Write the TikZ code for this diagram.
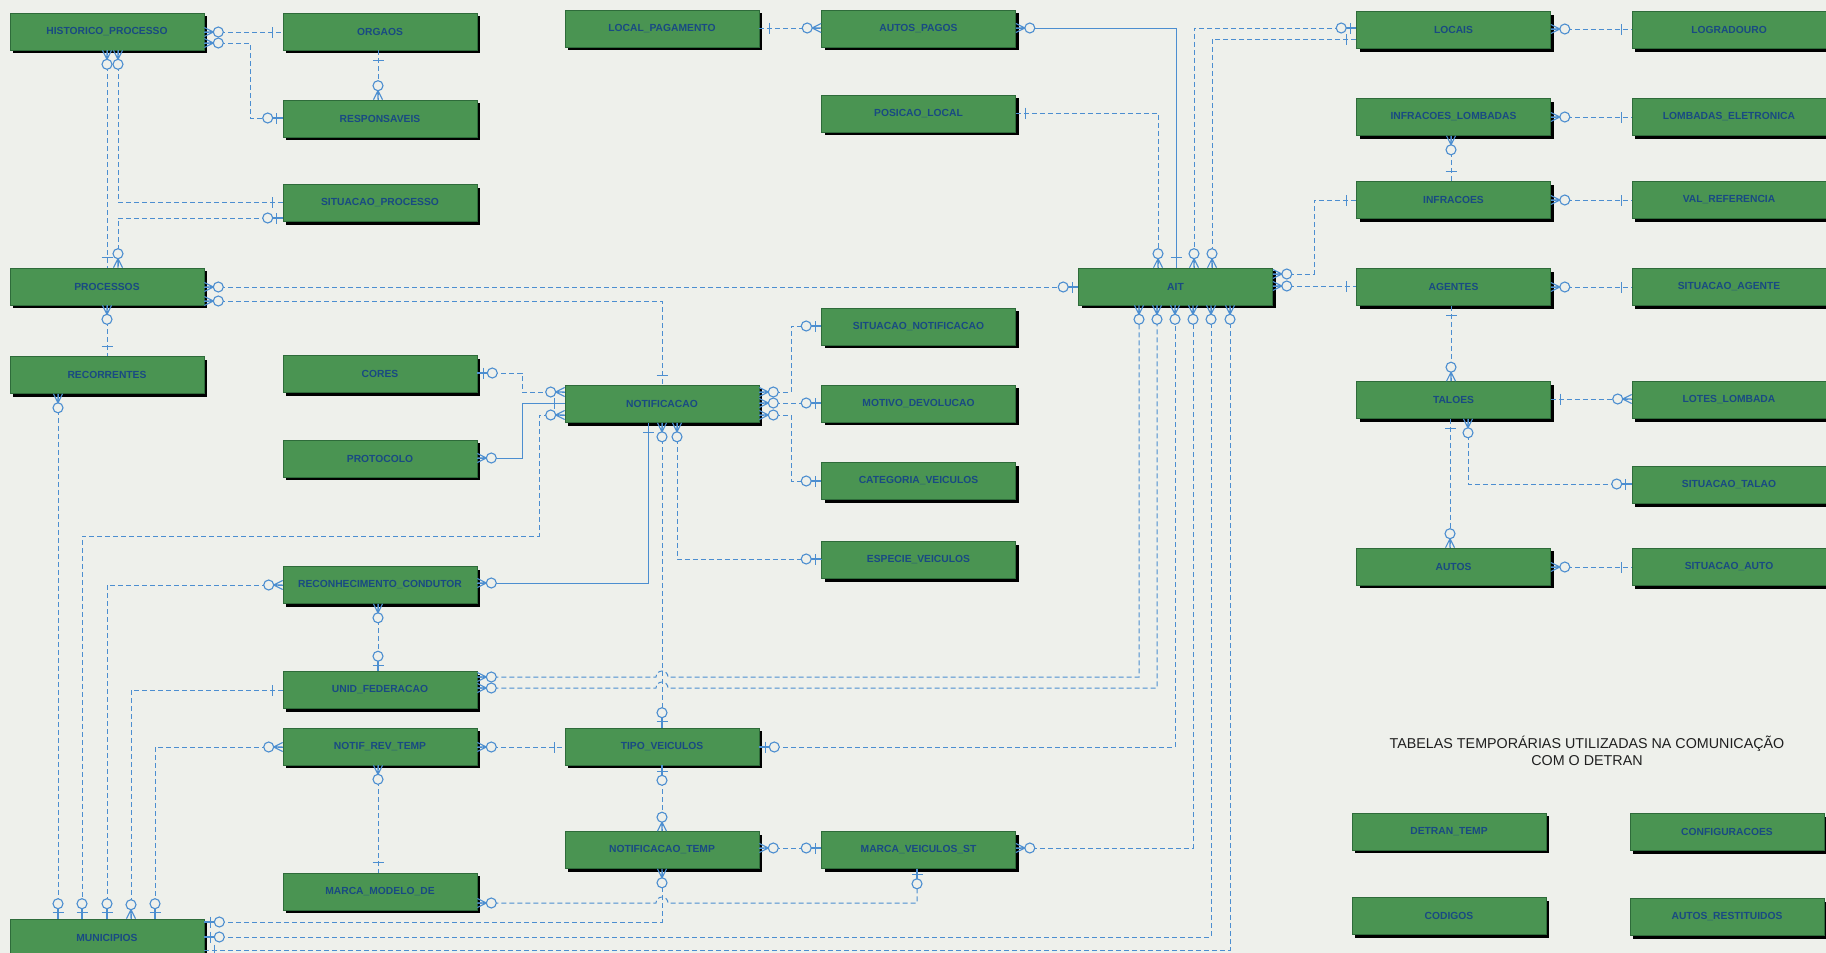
\documentclass[tikz,border=0pt]{standalone}
\usepackage{fontspec}
\newfontfamily\lsans{Liberation Sans}
\usetikzlibrary{shadows}
\definecolor{bgc}{HTML}{EEF0EB}
\definecolor{tblgreen}{HTML}{4A9452}
\definecolor{tblborder}{HTML}{2E6B3A}
\definecolor{tbltext}{HTML}{194A82}
\definecolor{relblue}{HTML}{4C8ED0}
\tikzset{
  tbl/.style={draw=tblborder, line width=0.6pt, fill=tblgreen,
    general shadow={fill=black, shadow xshift=3pt, shadow yshift=-3pt},
    minimum width=194pt, minimum height=37pt, inner sep=0pt, text=tbltext,
    font=\lsans\bfseries\fontsize{10.3}{12}\selectfont},
  rel/.style={draw=relblue, line width=1pt, dash pattern=on 5pt off 3pt},
  relsolid/.style={draw=relblue, line width=1pt},
  relsym/.style={draw=relblue, line width=1.1pt, solid},
  zmany/.pic={
    \draw[relsym] (0,-4.5) -- (9,0) -- (0,4.5) (0,0) -- (9,0);
    \draw[relsym, fill=bgc] (14,0) circle[radius=5];
  },
  zone/.pic={
    \draw[relsym] (6,-5.5) -- (6,5.5) (0,0) -- (10,0);
    \draw[relsym, fill=bgc] (15,0) circle[radius=5];
  },
  onebar/.pic={
    \draw[relsym] (10,-5.5) -- (10,5.5);
  },
}
\begin{document}
\begin{tikzpicture}[x=1pt,y=-1pt]
\fill[bgc] (0,0) rectangle (1826,953);
\useasboundingbox (0,0) rectangle (1826,953);

% ---------- tables ----------
\node[tbl] (hp) at (107,31.5) {HISTORICO\_PROCESSO};
\node[tbl] (pr) at (107,286.5) {PROCESSOS};
\node[tbl] (rec) at (107,375) {RECORRENTES};
\node[tbl] (mun) at (107,937.5) {MUNICIPIOS};

\node[tbl] (org) at (380,31.5) {ORGAOS};
\node[tbl] (resp) at (380,118.5) {RESPONSAVEIS};
\node[tbl] (sp) at (380,203) {SITUACAO\_PROCESSO};
\node[tbl] (cores) at (380,374) {CORES};
\node[tbl] (prot) at (380,458.5) {PROTOCOLO};
\node[tbl] (rc) at (380,585) {RECONHECIMENTO\_CONDUTOR};
\node[tbl] (uf) at (380,690) {UNID\_FEDERACAO};
\node[tbl] (nrt) at (380,746.5) {NOTIF\_REV\_TEMP};
\node[tbl] (mmd) at (380,891.5) {MARCA\_MODELO\_DE};

\node[tbl] (lp) at (662,28.5) {LOCAL\_PAGAMENTO};
\node[tbl] (notif) at (662,404) {NOTIFICACAO};
\node[tbl] (tv) at (662,746.5) {TIPO\_VEICULOS};
\node[tbl] (nt) at (662,850) {NOTIFICACAO\_TEMP};

\node[tbl] (ap) at (918.5,28.5) {AUTOS\_PAGOS};
\node[tbl] (pl) at (918.5,113.5) {POSICAO\_LOCAL};
\node[tbl] (sn) at (918.5,326.5) {SITUACAO\_NOTIFICACAO};
\node[tbl] (md) at (918.5,403.5) {MOTIVO\_DEVOLUCAO};
\node[tbl] (cv) at (918.5,481) {CATEGORIA\_VEICULOS};
\node[tbl] (ev) at (918.5,560) {ESPECIE\_VEICULOS};
\node[tbl] (mvst) at (918.5,850) {MARCA\_VEICULOS\_ST};

\node[tbl] (ait) at (1175.5,286.5) {AIT};

\node[tbl] (loc) at (1453.5,30) {LOCAIS};
\node[tbl] (il) at (1453.5,117) {INFRACOES\_LOMBADAS};
\node[tbl] (inf) at (1453.5,200) {INFRACOES};
\node[tbl] (ag) at (1453.5,287) {AGENTES};
\node[tbl] (tal) at (1453.5,400) {TALOES};
\node[tbl] (autos) at (1453.5,566.5) {AUTOS};
\node[tbl] (dt) at (1449,831.5) {DETRAN\_TEMP};
\node[tbl] (cod) at (1449,916) {CODIGOS};

\node[tbl] (logr) at (1729,30) {LOGRADOURO};
\node[tbl] (le) at (1729,117) {LOMBADAS\_ELETRONICA};
\node[tbl] (vr) at (1729,200) {VAL\_REFERENCIA};
\node[tbl] (sa) at (1729,287) {SITUACAO\_AGENTE};
\node[tbl] (ll) at (1729,400) {LOTES\_LOMBADA};
\node[tbl] (st) at (1729,485) {SITUACAO\_TALAO};
\node[tbl] (sau) at (1729,567) {SITUACAO\_AUTO};
\node[tbl] (conf) at (1727,832) {CONFIGURACOES};
\node[tbl] (ar) at (1727,917) {AUTOS\_RESTITUIDOS};

\node[text=black!88, align=center, font=\lsans\fontsize{14.3}{17.5}\selectfont] (title) at (1587,751)
  {TABELAS TEMPORÁRIAS UTILIZADAS NA COMUNICAÇÃO\\COM O DETRAN};

% ---------- relationships ----------
% HISTORICO_PROCESSO - ORGAOS
\draw[rel] (hp.east|-0,32) -- (org.west|-0,32);
\pic at (hp.east|-0,32) {zmany}; \pic[rotate=180] at (org.west|-0,32) {onebar};
% HISTORICO_PROCESSO - RESPONSAVEIS
\draw[rel] (hp.east|-0,43) -- (250,43) |- (resp.west|-0,118);
\pic at (hp.east|-0,43) {zmany}; \pic[rotate=180] at (resp.west|-0,118) {zone};
% ORGAOS - RESPONSAVEIS
\draw[rel] (org.south-|378,0) -- (resp.north-|378,0);
\pic[rotate=270] at (org.south-|378,0) {onebar}; \pic[rotate=90] at (resp.north-|378,0) {zmany};
% HISTORICO_PROCESSO - PROCESSOS
\draw[rel] (hp.south-|107,0) -- (pr.north-|107,0);
\pic[rotate=270] at (hp.south-|107,0) {zmany}; \pic[rotate=90] at (pr.north-|107,0) {onebar};
% HISTORICO_PROCESSO - SITUACAO_PROCESSO
\draw[rel] (hp.south-|118,0) |- (sp.west|-0,202);
\pic[rotate=270] at (hp.south-|118,0) {zmany}; \pic[rotate=180] at (sp.west|-0,202) {onebar};
% SITUACAO_PROCESSO - PROCESSOS
\draw[rel] (sp.west|-0,218) -| (pr.north-|118,0);
\pic[rotate=180] at (sp.west|-0,218) {zone}; \pic[rotate=90] at (pr.north-|118,0) {zmany};
% PROCESSOS - RECORRENTES
\draw[rel] (pr.south-|107,0) -- (rec.north-|107,0);
\pic[rotate=270] at (pr.south-|107,0) {zmany}; \pic[rotate=90] at (rec.north-|107,0) {onebar};
% PROCESSOS - AIT
\draw[rel] (pr.east|-0,287) -- (ait.west|-0,287);
\pic at (pr.east|-0,287) {zmany}; \pic[rotate=180] at (ait.west|-0,287) {zone};
% PROCESSOS - NOTIFICACAO
\draw[rel] (pr.east|-0,301) -| (notif.north-|662,0);
\pic at (pr.east|-0,301) {zmany}; \pic[rotate=90] at (notif.north-|662,0) {onebar};
% RECORRENTES - MUNICIPIOS
\draw[rel] (rec.south-|58,0) -- (mun.north-|58,0);
\pic[rotate=270] at (rec.south-|58,0) {zmany}; \pic[rotate=90] at (mun.north-|58,0) {zone};
% CORES - NOTIFICACAO
\draw[rel] (cores.east|-0,373) -- (522,373) |- (notif.west|-0,392);
\pic at (cores.east|-0,373) {zone}; \pic[rotate=180] at (notif.west|-0,392) {zmany};
% PROTOCOLO - NOTIFICACAO
\draw[relsolid] (prot.east|-0,458) -- (522,458) |- (notif.west|-0,403);
\pic at (prot.east|-0,458) {zmany}; \pic[rotate=180] at (notif.west|-0,403) {onebar};
% NOTIFICACAO - MUNICIPIOS
\draw[rel] (notif.west|-0,415) -- (539,415) -- (539,536) -- (82,536) -- (mun.north-|82,0);
\pic[rotate=180] at (notif.west|-0,415) {zmany}; \pic[rotate=90] at (mun.north-|82,0) {zone};
% RECONHECIMENTO_CONDUTOR - MUNICIPIOS
\draw[rel] (rc.west|-0,585) -| (mun.north-|107,0);
\pic[rotate=180] at (rc.west|-0,585) {zmany}; \pic[rotate=90] at (mun.north-|107,0) {zone};
% RECONHECIMENTO_CONDUTOR - NOTIFICACAO
\draw[relsolid] (rc.east|-0,583) -| (notif.south-|648,0);
\pic at (rc.east|-0,583) {zmany}; \pic[rotate=270] at (notif.south-|648,0) {onebar};
% RECONHECIMENTO_CONDUTOR - UNID_FEDERACAO
\draw[rel] (rc.south-|378,0) -- (uf.north-|378,0);
\pic[rotate=270] at (rc.south-|378,0) {zmany}; \pic[rotate=90] at (uf.north-|378,0) {zone};
% UNID_FEDERACAO - MUNICIPIOS
\draw[rel] (uf.west|-0,690) -| (mun.north-|131,0);
\pic[rotate=180] at (uf.west|-0,690) {onebar}; \pic[rotate=90] at (mun.north-|131,0) {zmany};
% NOTIF_REV_TEMP - MUNICIPIOS
\draw[rel] (nrt.west|-0,747) -| (mun.north-|155,0);
\pic[rotate=180] at (nrt.west|-0,747) {zmany}; \pic[rotate=90] at (mun.north-|155,0) {zone};
% NOTIF_REV_TEMP - TIPO_VEICULOS
\draw[rel] (nrt.east|-0,747) -- (tv.west|-0,747);
\pic at (nrt.east|-0,747) {zmany}; \pic[rotate=180] at (tv.west|-0,747) {onebar};
% NOTIF_REV_TEMP - MARCA_MODELO_DE
\draw[rel] (nrt.south-|378,0) -- (mmd.north-|378,0);
\pic[rotate=270] at (nrt.south-|378,0) {zmany}; \pic[rotate=90] at (mmd.north-|378,0) {onebar};
% UNID_FEDERACAO - AIT (two)
\draw[rel] (uf.east|-0,677) -- (656,677) arc[start angle=180,end angle=360,radius=6] -- (1139,677) -- (ait.south-|1139,0);
\pic at (uf.east|-0,677) {zmany}; \pic[rotate=270] at (ait.south-|1139,0) {zmany};
\draw[rel] (uf.east|-0,688) -- (656,688) arc[start angle=180,end angle=360,radius=6] -- (1157,688) -- (ait.south-|1157,0);
\pic at (uf.east|-0,688) {zmany}; \pic[rotate=270] at (ait.south-|1157,0) {zmany};
% NOTIFICACAO - TIPO_VEICULOS
\draw[rel] (notif.south-|662,0) -- (tv.north-|662,0);
\pic[rotate=270] at (notif.south-|662,0) {zmany}; \pic[rotate=90] at (tv.north-|662,0) {zone};
% NOTIFICACAO - ESPECIE_VEICULOS
\draw[rel] (notif.south-|677,0) |- (ev.west|-0,559);
\pic[rotate=270] at (notif.south-|677,0) {zmany}; \pic[rotate=180] at (ev.west|-0,559) {zone};
% NOTIFICACAO - SITUACAO_NOTIFICACAO
\draw[rel] (notif.east|-0,392) -- (791,392) |- (sn.west|-0,326);
\pic at (notif.east|-0,392) {zmany}; \pic[rotate=180] at (sn.west|-0,326) {zone};
% NOTIFICACAO - MOTIVO_DEVOLUCAO
\draw[rel] (notif.east|-0,403) -- (md.west|-0,403);
\pic at (notif.east|-0,403) {zmany}; \pic[rotate=180] at (md.west|-0,403) {zone};
% NOTIFICACAO - CATEGORIA_VEICULOS
\draw[rel] (notif.east|-0,415) -- (791,415) |- (cv.west|-0,481);
\pic at (notif.east|-0,415) {zmany}; \pic[rotate=180] at (cv.west|-0,481) {zone};
% TIPO_VEICULOS - NOTIFICACAO_TEMP
\draw[rel] (tv.south-|662,0) -- (nt.north-|662,0);
\pic[rotate=270] at (tv.south-|662,0) {zone}; \pic[rotate=90] at (nt.north-|662,0) {zmany};
% TIPO_VEICULOS - AIT
\draw[rel] (tv.east|-0,747) -| (ait.south-|1175,0);
\pic at (tv.east|-0,747) {zone}; \pic[rotate=270] at (ait.south-|1175,0) {zmany};
% NOTIFICACAO_TEMP - MARCA_VEICULOS_ST
\draw[rel] (nt.east|-0,848) -- (mvst.west|-0,848);
\pic at (nt.east|-0,848) {zmany}; \pic[rotate=180] at (mvst.west|-0,848) {zone};
% MARCA_VEICULOS_ST - AIT
\draw[rel] (mvst.east|-0,848) -| (ait.south-|1193,0);
\pic at (mvst.east|-0,848) {zmany}; \pic[rotate=270] at (ait.south-|1193,0) {zmany};
% MARCA_MODELO_DE - MARCA_VEICULOS_ST
\draw[rel] (mmd.east|-0,903) -- (656,903) arc[start angle=180,end angle=360,radius=6] -- (917,903) -- (mvst.south-|917,0);
\pic at (mmd.east|-0,903) {zmany}; \pic[rotate=270] at (mvst.south-|917,0) {zone};
% MUNICIPIOS - NOTIFICACAO_TEMP
\draw[rel] (mun.east|-0,922) -| (nt.south-|662,0);
\pic at (mun.east|-0,922) {zone}; \pic[rotate=270] at (nt.south-|662,0) {zmany};
% MUNICIPIOS - AIT (two)
\draw[rel] (mun.east|-0,937) -| (ait.south-|1211,0);
\pic at (mun.east|-0,937) {zone}; \pic[rotate=270] at (ait.south-|1211,0) {zmany};
\draw[rel] (mun.east|-0,950) -| (ait.south-|1230,0);
\pic at (mun.east|-0,950) {onebar}; \pic[rotate=270] at (ait.south-|1230,0) {zmany};
% LOCAL_PAGAMENTO - AUTOS_PAGOS
\draw[rel] (lp.east|-0,28) -- (ap.west|-0,28);
\pic at (lp.east|-0,28) {onebar}; \pic[rotate=180] at (ap.west|-0,28) {zmany};
% AUTOS_PAGOS - AIT
\draw[relsolid] (ap.east|-0,28) -| (ait.north-|1176,0);
\pic at (ap.east|-0,28) {zmany}; \pic[rotate=90] at (ait.north-|1176,0) {onebar};
% POSICAO_LOCAL - AIT
\draw[rel] (pl.east|-0,113) -| (ait.north-|1158,0);
\pic at (pl.east|-0,113) {onebar}; \pic[rotate=90] at (ait.north-|1158,0) {zmany};
% LOCAIS - AIT (two)
\draw[rel] (loc.west|-0,28) -| (ait.north-|1194,0);
\pic[rotate=180] at (loc.west|-0,28) {zone}; \pic[rotate=90] at (ait.north-|1194,0) {zmany};
\draw[rel] (loc.west|-0,39) -| (ait.north-|1212,0);
\pic[rotate=180] at (loc.west|-0,39) {onebar}; \pic[rotate=90] at (ait.north-|1212,0) {zmany};
% AIT - INFRACOES
\draw[rel] (ait.east|-0,274) -- (1314,274) |- (inf.west|-0,200);
\pic at (ait.east|-0,274) {zmany}; \pic[rotate=180] at (inf.west|-0,200) {onebar};
% AIT - AGENTES
\draw[rel] (ait.east|-0,286) -- (ag.west|-0,286);
\pic at (ait.east|-0,286) {zmany}; \pic[rotate=180] at (ag.west|-0,286) {onebar};
% LOCAIS - LOGRADOURO
\draw[rel] (loc.east|-0,29) -- (logr.west|-0,29);
\pic at (loc.east|-0,29) {zmany}; \pic[rotate=180] at (logr.west|-0,29) {onebar};
% INFRACOES_LOMBADAS - LOMBADAS_ELETRONICA
\draw[rel] (il.east|-0,117) -- (le.west|-0,117);
\pic at (il.east|-0,117) {zmany}; \pic[rotate=180] at (le.west|-0,117) {onebar};
% INFRACOES_LOMBADAS - INFRACOES
\draw[rel] (il.south-|1451,0) -- (inf.north-|1451,0);
\pic[rotate=270] at (il.south-|1451,0) {zmany}; \pic[rotate=90] at (inf.north-|1451,0) {onebar};
% INFRACOES - VAL_REFERENCIA
\draw[rel] (inf.east|-0,200) -- (vr.west|-0,200);
\pic at (inf.east|-0,200) {zmany}; \pic[rotate=180] at (vr.west|-0,200) {onebar};
% AGENTES - SITUACAO_AGENTE
\draw[rel] (ag.east|-0,287) -- (sa.west|-0,287);
\pic at (ag.east|-0,287) {zmany}; \pic[rotate=180] at (sa.west|-0,287) {onebar};
% AGENTES - TALOES
\draw[rel] (ag.south-|1451,0) -- (tal.north-|1451,0);
\pic[rotate=270] at (ag.south-|1451,0) {onebar}; \pic[rotate=90] at (tal.north-|1451,0) {zmany};
% TALOES - LOTES_LOMBADA
\draw[rel] (tal.east|-0,399) -- (ll.west|-0,399);
\pic at (tal.east|-0,399) {onebar}; \pic[rotate=180] at (ll.west|-0,399) {zmany};
% TALOES - AUTOS
\draw[rel] (tal.south-|1450,0) -- (autos.north-|1450,0);
\pic[rotate=270] at (tal.south-|1450,0) {onebar}; \pic[rotate=90] at (autos.north-|1450,0) {zmany};
% TALOES - SITUACAO_TALAO
\draw[rel] (tal.south-|1468,0) |- (st.west|-0,484);
\pic[rotate=270] at (tal.south-|1468,0) {zmany}; \pic[rotate=180] at (st.west|-0,484) {zone};
% AUTOS - SITUACAO_AUTO
\draw[rel] (autos.east|-0,567) -- (sau.west|-0,567);
\pic at (autos.east|-0,567) {zmany}; \pic[rotate=180] at (sau.west|-0,567) {onebar};
\end{tikzpicture}
\end{document}
